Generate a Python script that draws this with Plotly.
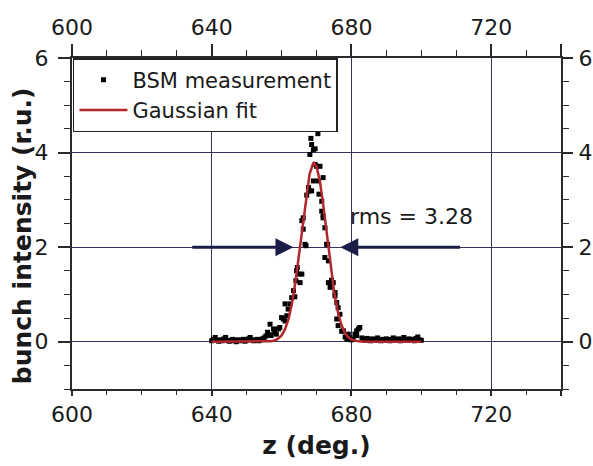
import plotly.graph_objects as go

# ---- data ----
meas_z = [640.0, 640.5, 641.0, 641.5, 642.0, 642.5, 643.0, 643.5, 644.0, 644.5,
          645.0, 645.5, 646.0, 646.5, 647.0, 647.5, 648.0, 648.5, 649.0, 649.5,
          650.0, 650.5, 651.0, 651.5, 652.0, 652.5, 653.0, 653.5, 654.0, 654.5,
          655.0, 655.5, 656.0, 656.5, 656.7, 657.0, 657.7, 658.0, 658.5, 659.1,
          659.5, 660.0, 660.5, 661.0, 661.0, 661.5, 661.9, 662.4, 662.9, 663.4,
          663.8, 664.1, 664.3, 664.5, 665.0, 665.3, 665.8, 665.8, 666.2, 666.2,
          666.7, 667.0, 667.2, 667.7, 668.1, 668.1, 668.4, 668.6, 668.6, 669.1,
          669.1, 669.6, 669.6, 670.0, 670.4, 670.5, 670.7, 671.0, 671.5, 671.5,
          671.9, 671.9, 671.9, 672.4, 672.4, 672.9, 673.2, 673.4, 673.4, 673.9,
          674.3, 674.8, 675.3, 675.3, 675.8, 675.8, 676.2, 676.2, 676.7, 677.2,
          677.7, 678.2, 678.7, 679.1, 679.5, 680.0, 680.5, 681.0, 681.5, 681.5,
          682.0, 682.4, 683.0, 683.5, 684.0, 684.5, 685.0, 685.5, 686.0, 686.5,
          687.0, 687.5, 688.0, 688.5, 689.0, 689.5, 690.0, 690.5, 691.0, 691.5,
          692.0, 692.5, 693.0, 693.5, 694.0, 694.5, 695.0, 695.5, 696.0, 696.5,
          697.0, 697.5, 698.0, 698.5, 699.0, 699.5, 700.0]
meas_i = [0.02, 0.05, 0.09, 0.03, 0.01, 0.04, 0.02, 0.06, 0.09, 0.03,
          0.01, 0.02, 0.05, 0.03, 0.00, 0.04, 0.02, 0.03, 0.05, 0.01,
          0.03, 0.06, 0.09, 0.04, 0.02, 0.03, 0.05, 0.02, 0.04, 0.06,
          0.08, 0.12, 0.20, 0.15, 0.37, 0.13, 0.27, 0.20, 0.16, 0.27,
          0.30, 0.51, 0.48, 0.80, 0.44, 0.55, 0.69, 0.80, 0.93, 1.08,
          0.95, 1.29, 1.50, 1.57, 1.43, 1.25, 1.43, 2.56, 2.38, 2.62,
          2.06, 2.03, 3.10, 3.26, 3.96, 3.19, 4.30, 4.17, 3.19, 4.06,
          3.40, 3.75, 4.08, 3.71, 4.40, 3.40, 3.12, 3.71, 2.97, 2.76,
          3.47, 2.66, 2.62, 2.41, 1.78, 2.06, 2.06, 1.71, 1.25, 1.15,
          1.30, 1.25, 0.97, 1.04, 0.48, 0.83, 0.72, 0.34, 0.58, 0.22,
          0.23, 0.10, 0.05, 0.16, 0.08, 0.04, 0.06, 0.16, 0.13, 0.23,
          0.27, 0.30, 0.08, 0.05, 0.03, 0.07, 0.04, 0.02, 0.06, 0.03,
          0.05, 0.08, 0.04, 0.02, 0.05, 0.03, 0.06, 0.04, 0.02, 0.05,
          0.08, 0.03, 0.04, 0.06, 0.02, 0.05, 0.09, 0.03, 0.04, 0.06,
          0.03, 0.05, 0.02, 0.07, 0.10, 0.04, 0.03]

fit_z = [640, 650, 655, 657, 658, 659, 660, 661, 662, 663, 664, 665, 666, 667,
         668, 669, 669.3, 670, 671, 672, 673, 674, 675, 676, 677, 678, 679,
         680, 681, 682, 684, 690, 700]
fit_i = [0.0, 0.0, 0.001, 0.011, 0.027, 0.063, 0.134, 0.265, 0.484, 0.818,
         1.279, 1.852, 2.483, 3.082, 3.541, 3.767, 3.78, 3.709, 3.381, 2.853,
         2.229, 1.612, 1.079, 0.669, 0.384, 0.204, 0.100, 0.046, 0.019, 0.008,
         0.001, 0.0, 0.0]

x_ticks = [600, 640, 680, 720, 740]
x_ticktext = ["600", "640", "680", "720", ""]
y_ticks = [0, 2, 4, 6]
rms_label = "rms = 3.28"
y_title = "<b>bunch intensity (r.u.)</b>"

FONT = "DejaVu Sans"
AX = "#2a2a2a"
GRID = "#34345e"
ARROW = "#1c1c48"
TXT = "#1a1a1a"

fig = go.Figure()
fig.add_trace(go.Scatter(
    x=meas_z, y=meas_i, mode="markers", name="BSM measurement",
    marker=dict(symbol="square", size=5, color="black", line=dict(width=0)),
))
fig.add_trace(go.Scatter(
    x=fit_z, y=fit_i, mode="lines", name="Gaussian fit",
    line=dict(color="#b3262b", width=2.5),
))
# dummy trace to create the mirrored top/right axes
fig.add_trace(go.Scatter(x=[None], y=[None], xaxis="x2", yaxis="y2",
                         showlegend=False, hoverinfo="skip"))


def xax(ticklen, minorlen):
    return dict(
        range=[600, 740], tickvals=x_ticks, ticktext=x_ticktext,
        ticks="outside", ticklen=ticklen, tickwidth=1.5, tickcolor=AX,
        showline=True, linecolor=AX, linewidth=2,
        zeroline=False, automargin=False,
        tickfont=dict(family=FONT, size=22, color=TXT),
        minor=dict(dtick=10, tick0=600, ticks="outside", ticklen=minorlen,
                   tickwidth=1.2, tickcolor=AX, showgrid=False),
    )


def yax(ticklen, standoff):
    return dict(
        range=[-1, 6], tickvals=y_ticks,
        ticks="outside", ticklen=ticklen, tickwidth=1.5, tickcolor=AX,
        showline=True, linecolor=AX, linewidth=2,
        zeroline=False, automargin=False, ticklabelstandoff=standoff,
        tickfont=dict(family=FONT, size=22, color=TXT),
        minor=dict(dtick=0.5, tick0=0, ticks="outside", ticklen=6,
                   tickwidth=1.2, tickcolor=AX, showgrid=False),
    )


fig.update_layout(
    width=593, height=466,
    margin=dict(l=72, r=32, t=58, b=77),
    paper_bgcolor="white", plot_bgcolor="white",
    font=dict(family=FONT, color=TXT),
    showlegend=True,
    legend=dict(
        x=0.002, y=1.0, xanchor="left", yanchor="top",
        bgcolor="white", bordercolor="#222222", borderwidth=1.5,
        font=dict(family=FONT, size=21, color=TXT),
        tracegroupgap=0, itemwidth=48,
    ),
    xaxis=dict(**xax(5, 4), showgrid=True, gridcolor=GRID, gridwidth=1.3,
               title=dict(text="<b>z (deg.)</b>",
                          font=dict(family=FONT, size=25, color=TXT),
                          standoff=10)),
    yaxis=dict(**yax(12, 5), showgrid=True, gridcolor=GRID, gridwidth=1.3),
    xaxis2=dict(**xax(12, 6), overlaying="x", side="top", anchor="y2",
                matches="x", showgrid=False),
    yaxis2=dict(**yax(10, 1), overlaying="y", side="right", anchor="x2",
                matches="y", showgrid=False),
)

# y-axis title placed as a rotated text
fig.add_annotation(x=-0.102, y=0.462, xref="paper", yref="paper",
                   xanchor="center", yanchor="middle", textangle=-90,
                   showarrow=False, text=y_title,
                   font=dict(family=FONT, size=25, color=TXT))

# rms arrows and label
fig.add_annotation(x=663.4, y=2, ax=634, ay=2, xref="x", yref="y",
                   axref="x", ayref="y", showarrow=True, arrowhead=2,
                   arrowsize=1.2, arrowwidth=3, arrowcolor=ARROW, text="")
fig.add_annotation(x=676.8, y=2, ax=711.5, ay=2, xref="x", yref="y",
                   axref="x", ayref="y", showarrow=True, arrowhead=2,
                   arrowsize=1.2, arrowwidth=3, arrowcolor=ARROW, text="")
fig.add_annotation(x=679.0, y=2.64, xref="x", yref="y", xanchor="left",
                   yanchor="middle", showarrow=False, text=rms_label,
                   font=dict(family=FONT, size=22, color=TXT))

# remove the default page margin so the 593x466 figure fills the window
fig.write_html(
    "out.html",
    config={"displayModeBar": False},
    post_script="document.body.style.margin='0';"
                "document.documentElement.style.overflow='hidden';",
)
